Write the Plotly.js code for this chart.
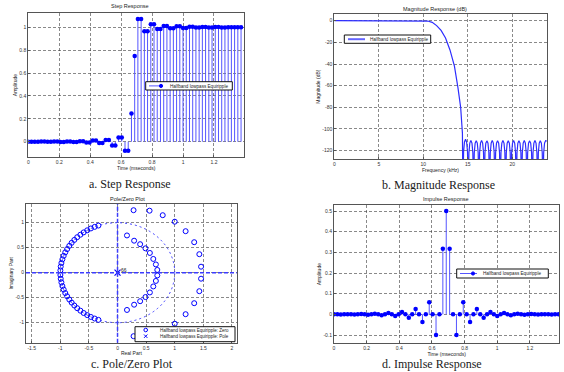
<!DOCTYPE html>
<html><head><meta charset="utf-8">
<script src="https://cdn.plot.ly/plotly-3.0.1.min.js"></script>
<style>html,body{margin:0;padding:0;background:#fff;}#chart{width:564px;height:372px;}</style>
</head><body><div id="chart"></div>
<script>
// ---------- data ----------
const seriesName = "Halfband lowpass Equiripple";
const sampleTimes = [0,0.0208,0.0417,0.0625,0.0833,0.1042,0.125,0.1458,0.1667,0.1875,0.2083,0.2292,
0.25,0.2708,0.2917,0.3125,0.3333,0.3542,0.375,0.3958,0.4167,0.4375,0.4583,0.4792,
0.5,0.5208,0.5417,0.5625,0.5833,0.6042,0.625,0.6458,0.6667,0.6875,0.7083,0.7292,
0.75,0.7708,0.7917,0.8125,0.8333,0.8542,0.875,0.8958,0.9167,0.9375,0.9583,0.9792,
1.0,1.0208,1.0417,1.0625,1.0833,1.1042,1.125,1.1458,1.1667,1.1875,1.2083,1.2292,
1.25,1.2708,1.2917,1.3125,1.3333,1.3542,1.375];
const stepValues = [0,0,0,0,0.001,0.001,-0.001,-0.001,0.001,0.001,-0.002,-0.002,0.002,0.002,
-0.003,-0.003,0.004,0.004,-0.006,-0.006,0.011,0.011,-0.012,-0.012,0.014,0.014,-0.034,-0.034,0.036,0.036,-0.078,-0.078,
0.247,0.748,
1.072,1.072,0.966,0.966,1.027,1.027,0.984,0.984,1.011,1.011,0.991,0.991,1.008,1.008,
0.994,0.994,1.005,1.005,0.997,0.997,1.003,1.003,0.998,0.998,1.002,1.002,0.999,0.999,1.001,1.001,1.0,1.0,
1.0];
const impulseValues = [0.0003,0,-0.0005,0,0.0008,0,-0.0012,0,0.0017,0,-0.0024,0,0.0033,0,-0.0045,0,
0.006,0,-0.008,0,0.012,0,-0.016,0,0.026,0,-0.037,0,0.058,0,-0.1,0,0.317,0.5,0.317,
0,-0.1,0,0.058,0,-0.037,0,0.026,0,-0.016,0,0.012,0,-0.008,0,0.006,0,-0.0045,0,0.0033,0,
-0.0024,0,0.0017,0,-0.0012,0,0.0008,0,-0.0005,0,0.0003];
const magFreq = [0,2,4,6,8,10,10.5,11,11.5,12,12.5,13,13.5,13.9,14.2,14.4,14.45,
14.53,14.63,14.75,14.87,14.97,15.05,
15.13,15.23,15.35,15.47,15.57,15.65,
15.73,15.83,15.95,16.07,16.17,16.25,
16.33,16.43,16.55,16.67,16.77,16.85,
16.93,17.03,17.15,17.27,17.37,17.45,
17.53,17.63,17.75,17.87,17.97,18.05,
18.13,18.23,18.35,18.47,18.57,18.65,
18.73,18.83,18.95,19.07,19.17,19.25,
19.33,19.43,19.55,19.67,19.77,19.85,
19.93,20.03,20.15,20.27,20.37,20.45,
20.53,20.63,20.75,20.87,20.97,21.05,
21.13,21.23,21.35,21.47,21.57,21.65,
21.73,21.83,21.95,22.07,22.17,22.25,
22.33,22.43,22.55,22.67,22.77,22.85,
22.93,23.03,23.15,23.27,23.37,23.45,
23.53,23.63,23.75,23.87,24.0];
const magDb = [0,0,0,0,0,0,-0.3,-1.5,-4.5,-9,-16,-27,-42,-62,-80,-104,-160,
-121,-112,-109.5,-112,-121,-160,
-122,-113,-110.5,-113,-122,-160,
-122,-113,-110.8,-113,-122,-160,
-122,-113,-110.5,-113,-122,-160,
-122,-113,-111,-113,-122,-160,
-122,-113,-110.5,-113,-122,-160,
-122,-113,-110.8,-113,-122,-160,
-122,-113,-110.5,-113,-122,-160,
-122,-113,-111,-113,-122,-160,
-122,-113,-110.5,-113,-122,-160,
-122,-113,-110.8,-113,-122,-160,
-122,-113,-110.5,-113,-122,-160,
-122,-113,-111,-113,-122,-160,
-122,-113,-110.5,-113,-122,-160,
-122,-113,-110.8,-113,-122,-160,
-122,-113,-110.8,-111,-112];
const zeroRe = [-0.334,-0.399,-0.466,-0.530,-0.592,-0.649,-0.705,-0.755,-0.802,-0.843,-0.881,-0.914,-0.941,-0.964,-0.981,-0.993,-0.999,
-0.334,-0.399,-0.466,-0.530,-0.592,-0.649,-0.705,-0.755,-0.802,-0.843,-0.881,-0.914,-0.941,-0.964,-0.981,-0.993,-0.999,
0.165,0.290,0.395,0.488,0.565,0.625,0.670,0.695,
0.165,0.290,0.395,0.488,0.565,0.625,0.670,0.695,
0.28,0.56,0.79,1.00,1.19,1.34,1.43,1.46,
0.28,0.56,0.79,1.00,1.19,1.34,1.43,1.46];
const zeroIm = [0.943,0.917,0.885,0.848,0.806,0.760,0.710,0.656,0.598,0.537,0.472,0.407,0.337,0.267,0.194,0.122,0.047,
-0.943,-0.917,-0.885,-0.848,-0.806,-0.760,-0.710,-0.656,-0.598,-0.537,-0.472,-0.407,-0.337,-0.267,-0.194,-0.122,-0.047,
0.745,0.640,0.570,0.487,0.395,0.275,0.165,0.055,
-0.745,-0.640,-0.570,-0.487,-0.395,-0.275,-0.165,-0.055,
1.25,1.24,1.15,1.02,0.83,0.61,0.37,0.12,
-1.27,-1.24,-1.15,-1.02,-0.83,-0.61,-0.37,-0.12];
const poleRe = [0];
const poleIm = [0];
const poleMultiplicity = "66";
const timeTicks = [0,0.2,0.4,0.6,0.8,1,1.2];
const timeTickText = ["0","0.2","0.4","0.6","0.8","1","1.2"];
const stepYTicks = [0,0.2,0.4,0.6,0.8,1];
const stepYTickText = ["0","0.2","0.4","0.6","0.8","1"];
const freqTicks = [0,5,10,15,20];
const freqTickText = ["0","5","10","15","20"];
const magTicks = [0,-20,-40,-60,-80,-100,-120];
const magTickText = ["0","-20","-40","-60","-80","-100","-120"];
const reTicks = [-1.5,-1,-0.5,0,0.5,1,1.5,2];
const reTickText = ["-1.5","-1","-0.5","0","0.5","1","1.5","2"];
const imTicks = [-1,-0.5,0,0.5,1];
const imTickText = ["-1","-0.5","0","0.5","1"];
const impYTicks = [-0.1,0,0.1,0.2,0.3,0.4,0.5];
const impYTickText = ["-0.1","0","0.1","0.2","0.3","0.4","0.5"];

// ---------- helpers ----------
const W = 564, H = 372;
const fx = p => p / W, fy = p => 1 - p / H;
const F = "Liberation Sans, Arial, sans-serif";
const BLUE = "rgb(0,0,255)";
const STEM = "rgb(85,85,255)";

function stems(xs, ys) {
  const X = [], Y = [];
  xs.forEach((x, i) => { X.push(x, x, null); Y.push(0, ys[i], null); });
  return {X, Y};
}
function ax(extra) {
  return Object.assign({
    showline: true, mirror: true, linecolor: "#555", linewidth: 1,
    ticks: "inside", ticklen: 2, tickcolor: "#555",
    showgrid: true, gridcolor: "#3a3a3a", griddash: "3px,2px", gridwidth: 0.6,
    zeroline: false, tickfont: {family: F, size: 5, color: "#333"},
    fixedrange: true, tickmode: "array"
  }, extra);
}
function atitle(t, s) { return {text: t, font: {family: F, size: 5, color: "#222"}, standoff: s}; }

const st = stems(sampleTimes, stepValues);
const im = stems(sampleTimes, impulseValues);

const traces = [
  {x: st.X, y: st.Y, xaxis: "x", yaxis: "y", mode: "lines", line: {color: STEM, width: 1}, hoverinfo: "skip"},
  {x: sampleTimes, y: stepValues, xaxis: "x", yaxis: "y", mode: "markers", name: seriesName,
   marker: {color: BLUE, size: 4.5, symbol: "circle"}},
  {x: magFreq, y: magDb, xaxis: "x2", yaxis: "y2", mode: "lines", name: seriesName,
   line: {color: "rgb(45,45,255)", width: 1.2}},
  {x: zeroRe, y: zeroIm, xaxis: "x3", yaxis: "y3", mode: "markers", name: seriesName + ": Zero",
   marker: {color: BLUE, size: 5, symbol: "circle-open", line: {width: 1, color: BLUE}}},
  {x: poleRe, y: poleIm, xaxis: "x3", yaxis: "y3", mode: "markers", name: seriesName + ": Pole",
   marker: {color: BLUE, size: 6, symbol: "x-thin-open", line: {width: 1.2, color: BLUE}}},
  {x: im.X, y: im.Y, xaxis: "x4", yaxis: "y4", mode: "lines", line: {color: STEM, width: 1}, hoverinfo: "skip"},
  {x: sampleTimes, y: impulseValues, xaxis: "x4", yaxis: "y4", mode: "markers", name: seriesName,
   marker: {color: BLUE, size: 4.5, symbol: "circle"}}
];

const shapes = [
  // pole/zero reference lines
  {type: "circle", xref: "x3", yref: "y3", x0: -1, x1: 1, y0: -1, y1: 1,
   line: {color: "rgb(60,60,255)", width: 1, dash: "2px,3px"}},
  {type: "line", xref: "x3", yref: "y3 domain", x0: 0, x1: 0, y0: 0, y1: 1,
   line: {color: "rgb(60,60,255)", width: 1.5, dash: "4px,2px"}},
  {type: "line", xref: "x3 domain", yref: "y3", x0: 0, x1: 1, y0: 0, y1: 0,
   line: {color: "rgb(60,60,255)", width: 1.5, dash: "4px,2px"}}
];
const annotations = [];

function text(x, y, t, size, opts) {
  annotations.push(Object.assign({xref: "paper", yref: "paper", x: fx(x), y: fy(y), text: t,
    showarrow: false, font: {family: F, size: size, color: "#222"}, xanchor: "center", yanchor: "middle"}, opts || {}));
}
function box(x0, y0, x1, y1) {
  shapes.push({type: "rect", xref: "paper", yref: "paper", x0: fx(x0), x1: fx(x1), y0: fy(y1), y1: fy(y0),
    line: {color: "#111", width: 1}, fillcolor: "#fff", layer: "above"});
}
function lline(x0, x1, y, w, c) {
  shapes.push({type: "line", xref: "paper", yref: "paper", x0: fx(x0), x1: fx(x1), y0: fy(y), y1: fy(y),
    line: {color: c, width: w}, layer: "above"});
}
function ldot(x, y, r, fill) {
  shapes.push({type: "circle", xref: "paper", yref: "paper", x0: fx(x - r), x1: fx(x + r), y0: fy(y + r), y1: fy(y - r),
    line: {color: BLUE, width: 1}, fillcolor: fill ? BLUE : "rgba(0,0,0,0)", layer: "above"});
}

// legends
box(145.7, 81.7, 232.3, 90); lline(149, 163, 85.9, 1, STEM); ldot(161, 85.9, 1.6, true);
text(168, 86, seriesName, 4.6, {xanchor: "left"});
box(344.3, 35, 430.7, 43.3); lline(348, 365, 39.2, 2, "rgb(100,100,255)");
text(367.5, 39.3, seriesName, 4.6, {xanchor: "left"});
box(456.7, 269, 548.3, 278); lline(460, 477, 273.5, 1, STEM); ldot(473, 273.5, 1.6, true);
text(481, 273.6, seriesName, 4.6, {xanchor: "left"});
box(135, 326.7, 235, 341.7); ldot(145.7, 330, 1.8, false);
lline(144, 147.4, 336.2, 1, BLUE);
shapes.push({type: "line", xref: "paper", yref: "paper", x0: fx(144), x1: fx(147.4), y0: fy(334.5), y1: fy(337.9), line: {color: BLUE, width: 1}, layer: "above"});
shapes.pop(); shapes.pop();
shapes.push({type: "line", xref: "paper", yref: "paper", x0: fx(144), x1: fx(147.4), y0: fy(334.5), y1: fy(337.9), line: {color: BLUE, width: 1}, layer: "above"});
shapes.push({type: "line", xref: "paper", yref: "paper", x0: fx(144), x1: fx(147.4), y0: fy(337.9), y1: fy(334.5), line: {color: BLUE, width: 1}, layer: "above"});
text(158.3, 330.2, seriesName + ": Zero", 4.5, {xanchor: "left"});
text(158.3, 336.4, seriesName + ": Pole", 4.5, {xanchor: "left"});

// plot titles
text(130, 6.5, "Step Response", 5.5);
text(435, 9.3, "Magnitude Response (dB)", 5.5);
text(127.7, 199, "Pole/Zero Plot", 5.5);
text(445.7, 199, "Impulse Response", 5.5);
// pole multiplicity
annotations.push({xref: "x3", yref: "y3", x: 0.12, y: 0.06, text: poleMultiplicity, showarrow: false,
  font: {family: F, size: 5, color: "#222"}});
// captions
const capFont = {family: "Liberation Serif, Times New Roman, serif", size: 12, color: "#1a1a1a"};
[["a. Step Response", 130, 183.5], ["b. Magnitude Response", 438.3, 185], ["c. Pole/Zero Plot", 132.3, 364], ["d. Impulse Response", 431.7, 364.3]]
  .forEach(c => annotations.push({xref: "paper", yref: "paper", x: fx(c[1]), y: fy(c[2]), text: c[0], showarrow: false,
    font: capFont, xanchor: "center", yanchor: "middle"}));

const layout = {
  width: W, height: H, margin: {l: 0, r: 0, t: 0, b: 0}, showlegend: false,
  paper_bgcolor: "#fff", plot_bgcolor: "#fff", font: {family: F},
  xaxis: ax({domain: [fx(28.3), fx(244.3)], range: [0, 1.396], anchor: "y", tickvals: timeTicks, ticktext: timeTickText, title: atitle("Time (mseconds)", 1)}),
  yaxis: ax({domain: [fy(156.7), fy(13.3)], range: [-0.131, 1.122], anchor: "x", tickvals: stepYTicks, ticktext: stepYTickText, title: atitle("Amplitude", 1)}),
  xaxis2: ax({domain: [fx(334.3), fx(546.7)], range: [0, 23.87], anchor: "y2", tickvals: freqTicks, ticktext: freqTickText, title: atitle("Frequency (kHz)", 1)}),
  yaxis2: ax({domain: [fy(159.3), fy(14)], range: [-128, 6.2], anchor: "x2", tickvals: magTicks, ticktext: magTickText, title: atitle("Magnitude (dB)", 1)}),
  xaxis3: ax({domain: [fx(26), fx(236.7)], range: [-1.6, 2.083], anchor: "y3", tickvals: reTicks, ticktext: reTickText, title: atitle("Real Part", 1)}),
  yaxis3: ax({domain: [fy(342.7), fy(204)], range: [-1.4, 1.374], anchor: "x3", tickvals: imTicks, ticktext: imTickText, title: atitle("Imaginary Part", 1)}),
  xaxis4: ax({domain: [fx(334), fx(559.3)], range: [0, 1.38], anchor: "y4", tickvals: timeTicks, ticktext: timeTickText, title: atitle("Time (mseconds)", 1)}),
  yaxis4: ax({domain: [fy(343.3), fy(205)], range: [-0.14, 0.529], anchor: "x4", tickvals: impYTicks, ticktext: impYTickText, title: atitle("Amplitude", 1)}),
  shapes: shapes, annotations: annotations
};
Plotly.newPlot("chart", traces, layout, {staticPlot: true, displayModeBar: false});
</script></body></html>
